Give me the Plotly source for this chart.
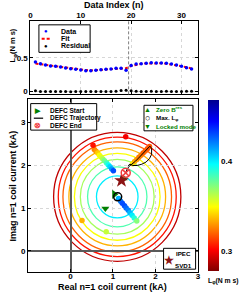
import plotly.graph_objects as go
from plotly.colors import sample_colorscale

W, H = 241, 297


def px(x):
    return x / W


def py(y):
    return 1 - y / H


# ---------------- top panel data ----------------
index_n = list(range(1, 33))
data_L = [0.437, 0.413, 0.393, 0.379, 0.374, 0.364, 0.350, 0.340, 0.330, 0.320,
          0.310, 0.310, 0.315, 0.325, 0.330, 0.335, 0.345, 0.345, 0.315, 0.388,
          0.408, 0.413, 0.418, 0.427, 0.422, 0.422, 0.418, 0.408, 0.393, 0.374,
          0.354, 0.335]
fit_L = [0.415, 0.405, 0.392, 0.382, 0.372, 0.362, 0.352, 0.343, 0.335, 0.326,
         0.318, 0.314, 0.315, 0.320, 0.327, 0.334, 0.340, 0.344, 0.346, 0.378,
         0.398, 0.410, 0.417, 0.420, 0.420, 0.418, 0.413, 0.404, 0.392, 0.377,
         0.360, 0.342]
resid_L = [0.015, 0.004, 0.002, 0.001, 0.002, 0.002, 0.001, 0.000, 0.001, 0.002,
           0.003, 0.001, 0.001, 0.004, 0.003, 0.002, 0.006, 0.016, 0.020, 0.012,
           0.006, 0.003, 0.002, 0.007, 0.002, 0.004, 0.005, 0.004, 0.001, 0.003,
           0.005, 0.006]
split_index = 19.5

# ---------------- bottom panel data ----------------
a_re = [0.56, 0.60, 0.64, 0.68, 0.72, 0.76, 0.80, 0.85, 0.89, 0.93, 0.97, 1.01]
a_im = [2.36, 2.32, 2.28, 2.23, 2.19, 2.14, 2.10, 2.05, 2.00, 1.96, 1.91, 1.87]
a_L = [0.325, 0.330, 0.340, 0.350, 0.355, 0.365, 0.375, 0.385, 0.395, 0.405, 0.415, 0.430]

b_re = [1.13, 1.18, 1.22, 1.27, 1.31, 1.36, 1.40, 1.45, 1.50, 1.56]
b_im = [1.22, 1.16, 1.11, 1.05, 1.00, 0.95, 0.89, 0.83, 0.77, 0.70]
b_L = [0.410, 0.420, 0.430, 0.430, 0.425, 0.420, 0.410, 0.400, 0.390, 0.372]

d_re = [1.46, 1.51, 1.56, 1.61, 1.66, 1.71, 1.76, 1.81, 1.86]
d_im = [2.03, 2.08, 2.13, 2.18, 2.23, 2.28, 2.33, 2.38, 2.43]
d_L = [0.345, 0.335, 0.330, 0.325, 0.325, 0.320, 0.320, 0.318, 0.318]

single_re = [0.53, 1.30, 0.27, 0.84]
single_im = [2.46, 2.66, 0.71, 0.45]
single_L = [0.305, 0.300, 0.335, 0.360]

traj_re = [1.30, 1.33, 1.38, 1.46, 1.53, 1.60, 1.67, 1.74, 1.81, 1.87, 1.91,
           1.91, 1.86, 1.78, 1.68, 1.57, 1.47, 1.40, 1.35]
traj_im = [1.82, 1.90, 1.97, 2.03, 2.09, 2.16, 2.23, 2.30, 2.37, 2.44, 2.39,
           2.25, 2.15, 2.07, 2.02, 1.99, 1.99, 2.02, 1.98]

contour_center = (1.10, 1.26)
contour_radius = [0.49, 0.70, 0.87, 1.01, 1.14, 1.28, 1.39, 1.50]
contour_level = [0.400, 0.382, 0.366, 0.350, 0.335, 0.320, 0.305, 0.290]

defc_start = (1.03, 1.32)
defc_end = (1.30, 1.82)
zero_bres = (1.25, 1.69)
max_L = (1.11, 1.26)
locked = (0.82, 0.99)
ipec_svd1 = (1.20, 1.64)

cmin, cmax = 0.278, 0.468
jet_r = [[0.0, 'rgb(128,0,0)'], [0.125, 'rgb(255,0,0)'], [0.375, 'rgb(255,255,0)'],
         [0.625, 'rgb(0,255,255)'], [0.875, 'rgb(0,0,255)'], [1.0, 'rgb(0,0,143)']]

FONT = "Liberation Sans"
GREEN = "rgb(0,128,0)"

fig = go.Figure()

# ---- top panel ----
fig.add_trace(go.Scatter(x=index_n, y=fit_L, mode="lines", xaxis="x", yaxis="y",
                         line=dict(color="red", width=2, dash="3px,2px"), showlegend=False))
fig.add_trace(go.Scatter(x=index_n, y=data_L, mode="markers", xaxis="x", yaxis="y",
                         marker=dict(color="blue", size=3.5), showlegend=False))
fig.add_trace(go.Scatter(x=index_n, y=resid_L, mode="markers", xaxis="x", yaxis="y",
                         marker=dict(color="black", size=3), showlegend=False))
fig.add_shape(type="line", xref="x", yref="y domain", x0=split_index, x1=split_index,
              y0=0, y1=1, line=dict(color="gray", width=1, dash="3px,2px"))

# ---- bottom panel ----
cx, cy = contour_center
for r, lv in zip(contour_radius, contour_level):
    col = sample_colorscale(jet_r, [(lv - cmin) / (cmax - cmin)])[0]
    fig.add_shape(type="circle", xref="x2", yref="y2", x0=cx - r, x1=cx + r,
                  y0=cy - r, y1=cy + r, line=dict(color=col, width=1.3), layer="below")

all_re = a_re + b_re + d_re + single_re
all_im = a_im + b_im + d_im + single_im
all_L = a_L + b_L + d_L + single_L
fig.add_trace(go.Scatter(
    x=all_re, y=all_im, mode="markers", xaxis="x2", yaxis="y2", showlegend=False,
    marker=dict(color=all_L, colorscale=jet_r, cmin=cmin, cmax=cmax, size=5.5,
                line=dict(width=0),
                colorbar=dict(x=px(210), xanchor="left", y=py(273), yanchor="bottom",
                              len=171, lenmode="pixels", thickness=11, thicknessmode="pixels",
                              xpad=0, ypad=0, outlinewidth=0, tickvals=[0.3, 0.4],
                              ticks="",
                              tickfont=dict(size=8, family=FONT, weight="bold")))))
fig.add_trace(go.Scatter(x=traj_re, y=traj_im, mode="lines", xaxis="x2", yaxis="y2",
                         line=dict(color="black", width=1), showlegend=False))


def pt(p, **mk):
    fig.add_trace(go.Scatter(x=[p[0]], y=[p[1]], mode="markers", xaxis="x2", yaxis="y2",
                             marker=mk, showlegend=False))


pt(defc_start, symbol="triangle-right", color=GREEN, size=8)
pt(locked, symbol="triangle-down", color=GREEN, size=7)
pt(zero_bres, symbol="triangle-up", color=GREEN, size=7)
pt(ipec_svd1, symbol="star", color="rgb(140,20,20)", size=11)
pt(max_L, symbol="circle-open", color="black", size=8, line=dict(width=1.5))
pt(defc_end, symbol="circle-x-open", color="rgb(240,60,60)", size=9, line=dict(width=1.5))

axis_common = dict(showline=True, linecolor="black", linewidth=1, mirror="ticks",
                   ticks="inside", ticklen=3, tickcolor="black",
                   showgrid=True, gridcolor="rgb(215,215,215)", griddash="dot", gridwidth=1,
                   tickfont=dict(size=8, family=FONT, weight="bold"))

fig.update_layout(
    width=W, height=H, margin=dict(l=0, r=0, t=0, b=0),
    paper_bgcolor="white", plot_bgcolor="white",
    font=dict(family=FONT, size=8, color="black", weight="bold"),
    showlegend=False,
    xaxis=dict(domain=[px(29), px(200)], range=[0, 33.25], side="top", anchor="y",
               tickvals=[0, 10, 20, 30], zeroline=False, ticklabelstandoff=-2, **axis_common),
    yaxis=dict(domain=[py(95), py(20.7)], range=[-0.04, 1.05], anchor="x",
               tickvals=[0, 0.5], ticktext=["0", "0.5"], zeroline=False, **axis_common),
    xaxis2=dict(domain=[px(26.7), px(200)], range=[-1, 3], anchor="y2",
                tickvals=[0, 1, 2, 3], zeroline=True, zerolinecolor="rgb(90,90,90)",
                zerolinewidth=2, ticklabelstandoff=-4, **axis_common),
    yaxis2=dict(domain=[py(274.3), py(100)], range=[-0.5, 3.53], anchor="x2",
                tickvals=[0, 1, 2, 3], zeroline=True, zerolinecolor="rgb(90,90,90)",
                zerolinewidth=2, **axis_common),
)


def txt(x, y, s, size=7, color="black", xanchor="left", angle=0):
    fig.add_annotation(x=px(x), y=py(y), xref="paper", yref="paper", text=s,
                       showarrow=False, xanchor=xanchor, yanchor="middle",
                       textangle=angle, borderpad=0,
                       font=dict(size=size, color=color, family=FONT, weight="bold"))


def box(x0, y0, x1, y1):
    fig.add_shape(type="rect", xref="paper", yref="paper", x0=px(x0), x1=px(x1),
                  y0=py(y1), y1=py(y0), fillcolor="white",
                  line=dict(color="black", width=1), layer="above")


def seg(x0, x1, y, color, dash="solid", width=1.5):
    fig.add_shape(type="line", xref="paper", yref="paper", x0=px(x0), x1=px(x1),
                  y0=py(y), y1=py(y), line=dict(color=color, width=width, dash=dash),
                  layer="above")


# titles
txt(114.5, 5.5, "Data Index (n)", size=9, xanchor="center")
txt(11, 46, "L<sub>φ</sub>(N m s)", size=7.5, xanchor="center", angle=-90)
txt(113, 289, "Real n=1 coil current (kA)", size=9, xanchor="center")
txt(11, 187, "Imag n=1 coil current (kA)", size=9, xanchor="center", angle=-90)
txt(209, 283, "L<sub>φ</sub>(N m s)", size=6.8)

# legend 1 (top panel)
box(37.7, 25, 90, 52.7)
txt(45, 31.7, "●", size=6, color="blue", xanchor="center")
seg(40.5, 50.5, 39, "red", dash="3px,2px", width=2)
txt(45, 46.3, "●", size=6, color="black", xanchor="center")
txt(59, 31.7, "Data")
txt(59, 39, "Fit")
txt(59, 46.3, "Residual")

# legend 2 (DEFC)
box(29.3, 104.3, 96.7, 131)
txt(36.5, 111.7, "▶", size=7, color=GREEN, xanchor="center")
seg(32.5, 42, 119, "black", width=1.2)
txt(36.5, 126.7, "⊗", size=8, color="rgb(240,60,60)", xanchor="center")
txt(47.5, 111.7, "DEFC Start", size=6.5)
txt(47.5, 119, "DEFC Trajectory", size=6.5)
txt(47.5, 126.7, "DEFC End", size=6.5)

# legend 3
box(145, 106, 195, 131.7)
txt(149, 109.8, "▲", size=7, color=GREEN, xanchor="center")
txt(149, 118.6, "○", size=9, color="black", xanchor="center")
txt(149, 127.6, "▼", size=7, color=GREEN, xanchor="center")
txt(156, 109.8, "Zero B<sup>res</sup>", size=6.2, color=GREEN)
txt(156, 118.6, "Max. L<sub>φ</sub>", size=6.2)
txt(156, 127.6, "Locked mode", size=6.2, color=GREEN)

# legend 4
box(165, 250, 197.7, 271)
txt(171, 261.5, "★", size=11, color="rgb(140,20,20)", xanchor="center")
txt(185.5, 255, "IPEC", size=6.2, xanchor="center")
txt(185.5, 267, "SVD1", size=6.2, xanchor="center")

fig.write_html("out.html",
               config={"displayModeBar": False},
               post_script="document.body.style.margin='0';"
                           "document.body.style.overflow='hidden';")
